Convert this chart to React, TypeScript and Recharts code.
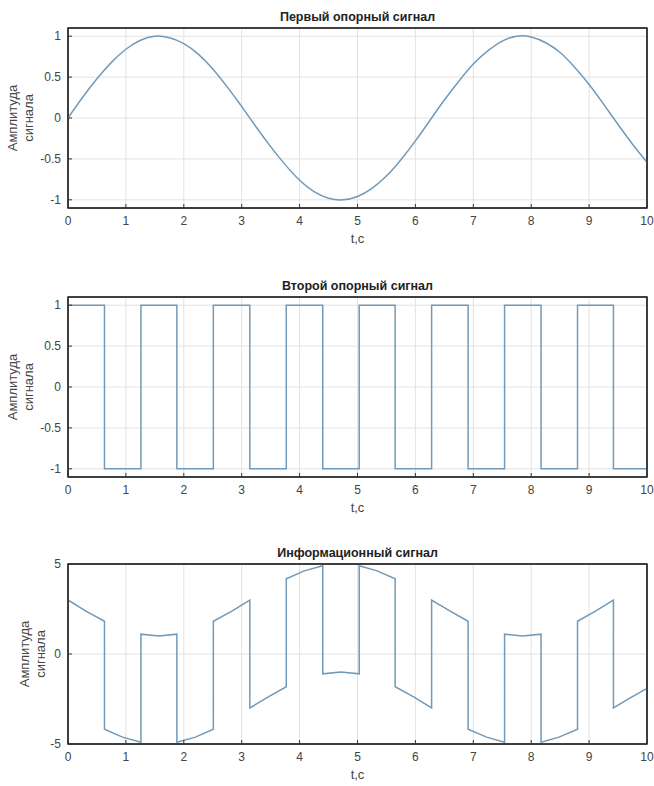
import { LineChart, Line, XAxis, YAxis, CartesianGrid, ReferenceArea } from 'recharts';

// time axis ticks (shared by all three panels)
const timeTicks = [0, 1, 2, 3, 4, 5, 6, 7, 8, 9, 10];
const unitTicks = [-1, -0.5, 0, 0.5, 1];
const infoTicks = [-5, 0, 5];

// first reference signal, sampled every 0.25 s
const sineTime = [
  0, 0.25, 0.5, 0.75, 1, 1.25, 1.5, 1.75, 2, 2.25, 2.5, 2.75, 3, 3.25, 3.5, 3.75, 4, 4.25, 4.5, 4.75,
  5, 5.25, 5.5, 5.75, 6, 6.25, 6.5, 6.75, 7, 7.25, 7.5, 7.75, 8, 8.25, 8.5, 8.75, 9, 9.25, 9.5, 9.75, 10,
];
const sineValues = [
  0, 0.25, 0.48, 0.68, 0.84, 0.95, 1.0, 0.98, 0.91, 0.78, 0.6, 0.38, 0.14, -0.11, -0.35, -0.57, -0.76,
  -0.9, -0.98, -1.0, -0.96, -0.86, -0.71, -0.51, -0.28, -0.03, 0.22, 0.45, 0.66, 0.82, 0.94, 1.0, 0.99,
  0.92, 0.8, 0.62, 0.41, 0.17, -0.08, -0.32, -0.54,
];

// second reference signal: level switches (step after)
const squareTime = [0, 0.63, 1.26, 1.88, 2.51, 3.14, 3.77, 4.4, 5.03, 5.65, 6.28, 6.91, 7.54, 8.17, 8.8, 9.42, 10];
const squareValues = [1, -1, 1, -1, 1, -1, 1, -1, 1, -1, 1, -1, 1, -1, 1, -1, -1];

// information signal: start / middle / end of each segment
const infoTime = [
  0, 0.31, 0.63, 0.63, 0.94, 1.26, 1.26, 1.57, 1.88, 1.88, 2.2, 2.51, 2.51, 2.83, 3.14, 3.14, 3.46, 3.77,
  3.77, 4.08, 4.4, 4.4, 4.71, 5.03, 5.03, 5.34, 5.65, 5.65, 5.97, 6.28, 6.28, 6.6, 6.91, 6.91, 7.23, 7.54,
  7.54, 7.85, 8.17, 8.17, 8.48, 8.8, 8.8, 9.11, 9.42, 9.42, 9.71, 10,
];
const infoValues = [
  3.0, 2.38, 1.82, -4.18, -4.62, -4.9, 1.1, 1.0, 1.1, -4.9, -4.62, -4.18, 1.82, 2.38, 3.0, -3.0, -2.38, -1.82,
  4.18, 4.62, 4.9, -1.1, -1.0, -1.1, 4.9, 4.62, 4.18, -1.82, -2.38, -3.0, 3.0, 2.38, 1.82, -4.18, -4.62, -4.9,
  1.1, 1.0, 1.1, -4.9, -4.62, -4.18, 1.82, 2.38, 3.0, -3.0, -2.44, -1.91,
];

const toRows = (t: number[], v: number[]) => t.map((x, i) => ({ t: x, v: v[i] }));

const FONT = '"Liberation Sans", Arial, sans-serif';
const LINE = '#729ab8';
const BOX = '#333333';

interface PanelProps {
  title: string;
  top: number;
  height: number;
  marginTop: number;
  labelX: number;
  data: { t: number; v: number }[];
  domain: [number, number];
  yTicks: number[];
  lineType: 'linear' | 'natural' | 'stepAfter';
}

function Panel({ title, top, height, marginTop, labelX, data, domain, yTicks, lineType }: PanelProps) {
  const plotH = 180;
  const tickStyle = { fontSize: 12, fill: '#444', fontFamily: FONT };
  return (
    <div style={{ position: 'absolute', left: 0, top, width: 654, height }}>
      <div
        style={{
          position: 'absolute', left: 68, width: 579, top: marginTop - 18, textAlign: 'center',
          fontFamily: FONT, fontWeight: 'bold', fontSize: 12.5, color: '#222',
        }}
      >
        {title}
      </div>
      <div style={{ position: 'absolute', left: labelX, top: marginTop + plotH / 2, width: 0, height: 0 }}>
        <div
          style={{
            position: 'absolute', transform: 'translate(-50%, -50%) rotate(-90deg)', whiteSpace: 'nowrap',
            textAlign: 'center', fontFamily: FONT, fontSize: 13, lineHeight: '16px', color: '#444',
          }}
        >
          Амплитуда
          <br />
          сигнала
        </div>
      </div>
      <div
        style={{
          position: 'absolute', left: 68, width: 579, top: marginTop + plotH + 23, textAlign: 'center',
          fontFamily: FONT, fontSize: 13, color: '#444',
        }}
      >
        t,c
      </div>
      <LineChart
        width={654}
        height={height}
        data={data}
        margin={{ top: marginTop - 1, right: 6, left: 8, bottom: height - marginTop - plotH - 30 }}
      >
        <CartesianGrid stroke="#e2e2e2" horizontalValues={yTicks} verticalValues={timeTicks} />
        <XAxis
          dataKey="t"
          type="number"
          domain={[0, 10]}
          ticks={timeTicks}
          height={30}
          tick={tickStyle}
          tickSize={-4}
          tickMargin={12}
          axisLine={{ stroke: BOX, strokeWidth: 1.5 }}
          tickLine={{ stroke: BOX }}
        />
        {/* top and right axes close the MATLAB style box */}
        <XAxis
          xAxisId="top"
          orientation="top"
          dataKey="t"
          type="number"
          domain={[0, 10]}
          ticks={timeTicks}
          height={1}
          tick={false}
          axisLine={{ stroke: BOX, strokeWidth: 1.5 }}
        />
        <YAxis
          type="number"
          domain={domain}
          ticks={yTicks}
          width={60}
          tick={tickStyle}
          tickSize={-4}
          tickMargin={11}
          allowDataOverflow
          axisLine={{ stroke: BOX, strokeWidth: 1.5 }}
          tickLine={{ stroke: BOX }}
        />
        <YAxis
          yAxisId="right"
          orientation="right"
          type="number"
          domain={domain}
          ticks={yTicks}
          width={1}
          tick={false}
          axisLine={{ stroke: BOX, strokeWidth: 1.5 }}
        />
        <ReferenceArea
          x1={0}
          x2={10}
          y1={domain[0]}
          y2={domain[1]}
          fill="none"
          fillOpacity={0}
          stroke={BOX}
          strokeWidth={1.5}
          ifOverflow="visible"
        />
        <Line
          type={lineType}
          dataKey="v"
          stroke={LINE}
          strokeWidth={1.5}
          dot={false}
          activeDot={false}
          isAnimationActive={false}
        />
      </LineChart>
    </div>
  );
}

export default function App() {
  return (
    <div style={{ position: 'absolute', left: 0, top: 0, width: 654, height: 786, background: '#fff' }}>
      <Panel
        title="Первый опорный сигнал"
        top={0}
        height={262}
        marginTop={28}
        labelX={21}
        data={toRows(sineTime, sineValues)}
        domain={[-1.1, 1.1]}
        yTicks={unitTicks}
        lineType="natural"
      />
      <Panel
        title="Второй опорный сигнал"
        top={270}
        height={262}
        marginTop={27}
        labelX={21}
        data={toRows(squareTime, squareValues)}
        domain={[-1.1, 1.1]}
        yTicks={unitTicks}
        lineType="stepAfter"
      />
      <Panel
        title="Информационный сигнал"
        top={536}
        height={250}
        marginTop={28}
        labelX={33}
        data={toRows(infoTime, infoValues)}
        domain={[-5, 5]}
        yTicks={infoTicks}
        lineType="linear"
      />
    </div>
  );
}
